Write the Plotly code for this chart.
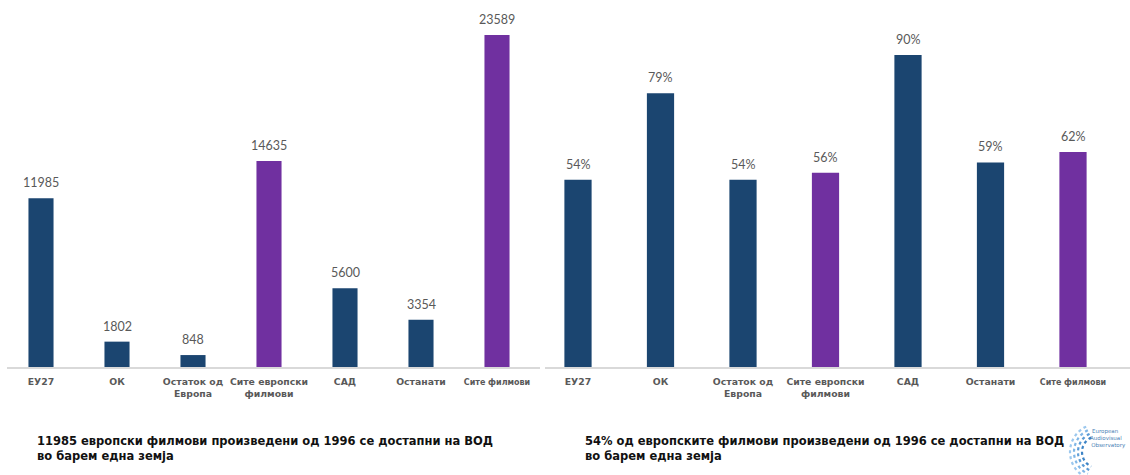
import numpy as np
import plotly.graph_objects as go

W, H = 1130, 475

# Categories shared by both panels
categories = ["ЕУ27", "ОК", "Остаток од<br>Европа", "Сите европски<br>филмови",
              "САД", "Останати", "Сите филмови"]
tick_text = ["ЕУ27", "ОК", "Остаток од<br>Европа", "Сите европски<br>филмови",
             "САД", "Останати", "<span style='font-size:8px'>Сите филмови</span>"]

# Number of films available on VOD in at least one country
film_counts = [11985, 1802, 848, 14635, 5600, 3354, 23589]
# Share of films available on VOD in at least one country (%)
film_shares = [54, 79, 54, 56, 90, 59, 62]

NAVY = "#1b4570"
PURPLE = "#7030a0"
bar_colors = [NAVY, NAVY, NAVY, PURPLE, NAVY, NAVY, PURPLE]

footer_left = "11985 европски филмови произведени од 1996 се достапни на ВОД<br>во барем една земја"
footer_right = "54% од европските филмови произведени од 1996 се достапни на ВОД<br>во барем една земја"


def px(x):
    return x / W


def py(y):
    return 1 - y / H


base_y = 367
top_y = 10
y_dom = [py(base_y), py(top_y)]
left_dom = [px(3), px(535)]
right_dom = [px(536.75), px(1114.25)]

fig = go.Figure()
fig.add_trace(go.Bar(x=categories, y=film_counts, marker_color=bar_colors,
                     marker_line_width=0, xaxis="x", yaxis="y",
                     hoverinfo="skip"))
fig.add_trace(go.Bar(x=categories, y=film_shares, marker_color=bar_colors,
                     marker_line_width=0, xaxis="x2", yaxis="y2",
                     hoverinfo="skip"))

value_font = dict(family="Lato", size=12.5, color="#595959")

# Value labels above bars
annotations = []
for c, v in zip(categories, film_counts):
    annotations.append(dict(x=c, y=v, xref="x", yref="y", text=str(v),
                            showarrow=False, yanchor="bottom", yshift=6,
                            font=value_font))
for c, v in zip(categories, film_shares):
    annotations.append(dict(x=c, y=v, xref="x2", yref="y2", text=f"{v}%",
                            showarrow=False, yanchor="bottom", yshift=6,
                            font=value_font))

# Footer notes
for x0, txt in [(35, footer_left), (583, footer_right)]:
    annotations.append(dict(x=px(x0), y=py(432), xref="paper", yref="paper",
                            text=txt, showarrow=False, xanchor="left",
                            yanchor="top", align="left",
                            font=dict(family="DejaVu Sans", size=11.5,
                                      color="#111111", weight="bold")))

# Observatory logo text
annotations.append(dict(x=px(1128), y=py(426), xref="paper", yref="paper",
                        text="European&nbsp;&nbsp;&nbsp;&nbsp;<br>Audiovisual&nbsp;&nbsp;<br>Observatory",
                        showarrow=False, xanchor="right", yanchor="top",
                        align="right",
                        font=dict(family="DejaVu Sans", size=5.5, color="#4a7fb5")))

shapes = []
# Baselines for each panel
shapes.append(dict(type="line", xref="paper", yref="paper",
                   x0=px(7), x1=px(540), y0=py(base_y + 1), y1=py(base_y + 1),
                   line=dict(color="#d9d9d9", width=2)))
shapes.append(dict(type="line", xref="paper", yref="paper",
                   x0=px(545), x1=px(1130), y0=py(base_y + 1), y1=py(base_y + 1),
                   line=dict(color="#d9d9d9", width=2)))

# Logo arcs
cx, cy = 1098, 452
for r, col in [(28, "#9cc8ee"), (24, "#7fb6e6"), (20, "#5a9bd6"), (16, "#3d84c6")]:
    t = np.linspace(np.deg2rad(115), np.deg2rad(245), 32)
    xs = cx + r * np.cos(t)
    ys = cy - r * np.sin(t)
    path = "M " + " L ".join(f"{px(a):.5f},{py(b):.5f}" for a, b in zip(xs, ys))
    shapes.append(dict(type="path", xref="paper", yref="paper", path=path,
                       line=dict(color=col, width=2.2, dash="dot")))

tick_font = dict(family="DejaVu Sans", size=9.3, color="#595959", weight="bold")
axis_common = dict(showgrid=False, zeroline=False, showline=False,
                   ticks="", fixedrange=True, tickangle=0, automargin=False,
                   ticklabelstandoff=8, tickmode="array",
                   tickvals=categories, ticktext=tick_text, tickfont=tick_font)

fig.update_layout(
    width=W, height=H,
    margin=dict(l=0, r=0, t=0, b=0, autoexpand=False),
    paper_bgcolor="white", plot_bgcolor="white",
    showlegend=False,
    bargap=0.67,
    font=dict(family="DejaVu Sans"),
    xaxis=dict(domain=left_dom, anchor="y", **axis_common),
    yaxis=dict(domain=y_dom, range=[0, 23589 * (base_y - top_y) / 332],
               visible=False, fixedrange=True),
    xaxis2=dict(domain=right_dom, anchor="y2", **axis_common),
    yaxis2=dict(domain=y_dom, range=[0, 90 * (base_y - top_y) / 312],
                visible=False, fixedrange=True),
    annotations=annotations,
    shapes=shapes,
)

fig.write_html("out.html")
